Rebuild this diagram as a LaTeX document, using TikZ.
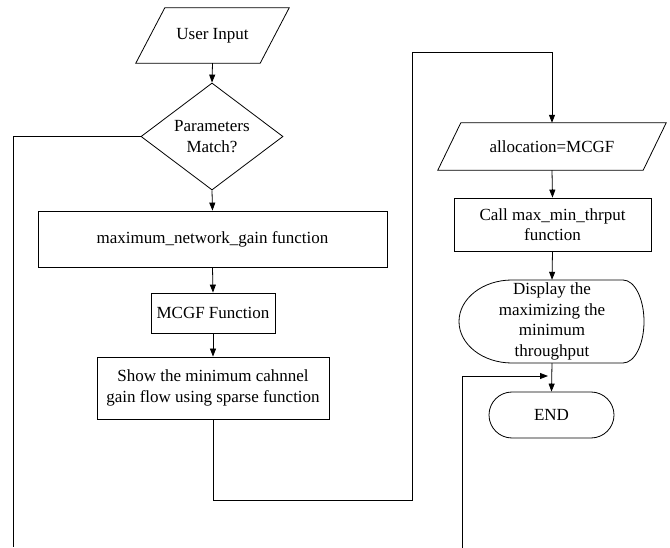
\documentclass[tikz,border=0pt]{standalone}
\usepackage{fontspec}
\setmainfont{Liberation Serif}
\usetikzlibrary{shapes.geometric,arrows.meta,calc}
\tikzset{
  txt/.style={font=\fontsize{17}{20.5}\selectfont, align=center, inner sep=0pt},
  box/.style={txt, draw, line width=0.8pt, rectangle},
  ghost/.style={txt, rectangle},
  outline/.style={draw, line width=0.8pt},
  link/.style={line width=0.8pt},
  arr/.style={line width=0.8pt, -{Triangle[length=8pt,width=6pt]}},
}
\begin{document}
\begin{tikzpicture}[x=1pt,y=-1pt]
\useasboundingbox (0,0) rectangle (670,548);

% User Input parallelogram
\node[ghost, minimum width=124, minimum height=55] (ui) at (212.5,35.5) {User Input};
\draw[outline] ($(ui.north west)+(14.5,0)$) -- ($(ui.north east)+(14.5,0)$)
  -- ($(ui.south east)+(-14.5,0)$) -- ($(ui.south west)+(-14.5,0)$) -- cycle;

% Decision
\node[txt, diamond, draw, line width=0.8pt, minimum width=142, minimum height=107, aspect=1.33] (pm) at (212,136.5) {Parameters\\Match?};

% Left column boxes
\node[box, minimum width=349, minimum height=56] (mx) at (212.5,239) {maximum\_network\_gain function};
\node[box, minimum width=124, minimum height=40] (mc) at (213,313) {MCGF Function};
\node[box, minimum width=232, minimum height=62] (sh) at (213,388) {Show the minimum cahnnel\\gain flow using sparse function};

% allocation parallelogram
\node[ghost, minimum width=205, minimum height=47] (al) at (552,146.5) {allocation=MCGF};
\draw[outline] ($(al.north west)+(11.5,0)$) -- ($(al.north east)+(11.5,0)$)
  -- ($(al.south east)+(-11.5,0)$) -- ($(al.south west)+(-11.5,0)$) -- cycle;

% Call box
\node[box, minimum width=197, minimum height=53] (cl) at (552.5,224.5) {Call max\_min\_thrput\\function};

% Display shape
\node[ghost, minimum width=185, minimum height=83] (dp) at (552,321.5) {Display the\\maximizing the\\minimum\\throughput};
\draw[outline] (512,280) -- (623,280)
  .. controls (634.6,280) and (644,298.6) .. (644,321.5)
  .. controls (644,344.4) and (634.6,363) .. (623,363)
  -- (512,363)
  .. controls (482.7,363) and (459,344.4) .. (459,321.5)
  .. controls (459,298.6) and (482.7,280) .. cycle;

% END terminator
\node[box, minimum width=125, minimum height=46, rounded corners=23pt] (en) at (551.5,415) {END};

% helper coordinates
\coordinate (lb) at (13,547);
\coordinate (c1) at (412,500);
\coordinate (c2) at (412,52);
\coordinate (rb) at (462,548);
\coordinate (rt) at (548,376);

% connectors
\draw[arr] (ui.south) -- (pm.north);
\draw[link] (pm.west) -| (lb);
\draw[arr] (pm.south) -- (mx.north);
\draw[arr] (mx.south) -- (mc.north);
\draw[arr] (mc.south) -- (sh.north);
\draw[arr] (sh.south) |- (c1) -- (c2) -| (al.north);
\draw[arr] (al.south) -- (cl.north);
\draw[arr] (cl.south) -- (dp.north);
\draw[arr] (dp.south) -- (en.north);
\draw[arr] (rb) |- (rt);
\end{tikzpicture}
\end{document}
